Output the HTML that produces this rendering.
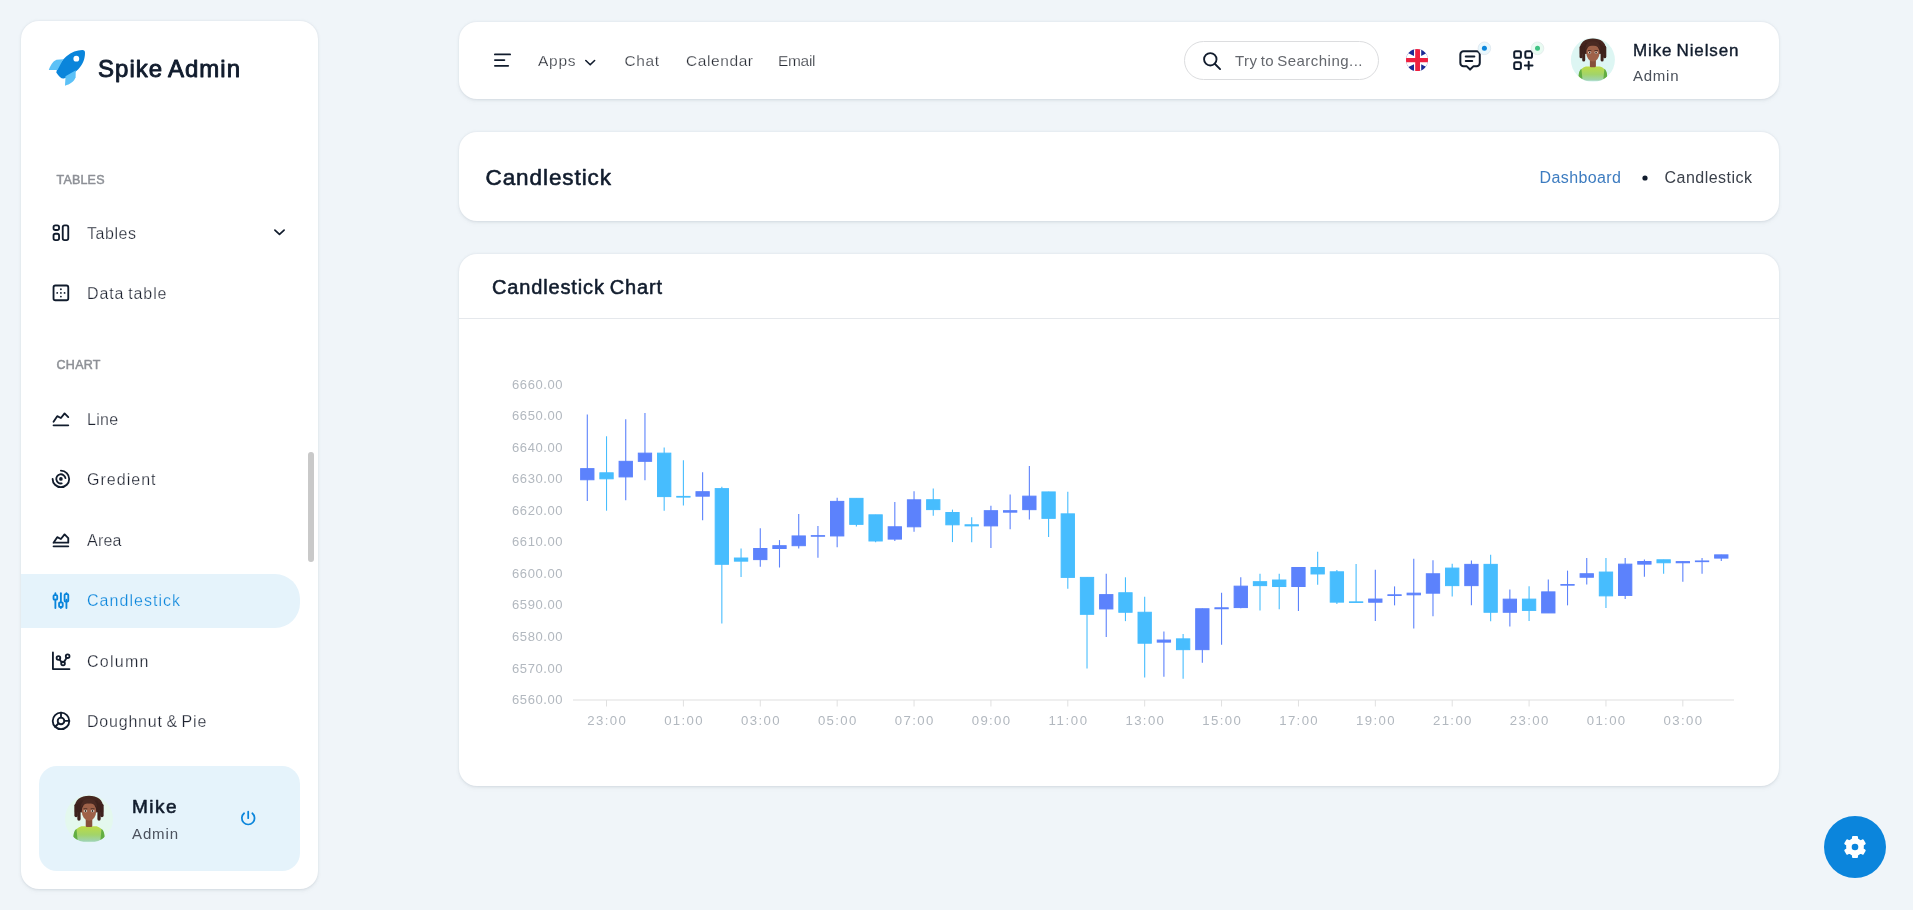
<!DOCTYPE html>
<html><head><meta charset="utf-8"><title>Candlestick</title>
<style>
html,body{margin:0;padding:0;width:1913px;height:910px;overflow:hidden;background:#F0F5F9;font-family:"Liberation Sans",sans-serif}
.abs{position:absolute}
.card{position:absolute;background:#fff;border-radius:18px;box-shadow:rgba(145,158,171,0.28) 0 0.5px 2.5px 0, rgba(0,0,0,0.025) 0 3px 6px 0}
svg text{font-family:"Liberation Sans",sans-serif}
</style></head><body>
<div class="card" style="left:21px;top:21px;width:297px;height:868px"></div>
<div class="abs" style="left:21px;top:573.5px;width:279px;height:54px;background:#E5F3FB;border-radius:0 25px 25px 0"></div>
<div class="abs" style="left:308px;top:451.5px;width:6px;height:110px;background:#C9C9C9;border-radius:3px"></div>
<div class="abs" style="left:39px;top:766px;width:261px;height:105px;background:#E5F3FB;border-radius:18px"></div>
<div class="card" style="left:458.5px;top:22px;width:1320.5px;height:77px"></div>
<div class="abs" style="left:1184.3px;top:41.2px;width:193.2px;height:36.5px;border:1px solid #DCDDDF;border-radius:20px"></div>
<div class="card" style="left:458.5px;top:131.5px;width:1320.5px;height:89.5px"></div>
<div class="card" style="left:458.5px;top:254px;width:1320.5px;height:532px"></div>
<div class="abs" style="left:458.5px;top:318px;width:1320.5px;height:1px;background:#E5E8EC"></div>
<div class="abs" style="left:1824px;top:816px;width:62px;height:62px;background:#0B85DC;border-radius:50%"></div>
<svg class="abs" style="left:0;top:0;will-change:transform" width="1913" height="910" viewBox="0 0 1913 910">
<text x="98" y="77" font-size="24" font-weight="400" fill="#111C2D" textLength="142" lengthAdjust="spacing" word-spacing="-1.5" stroke="#111C2D" stroke-width="0.9" stroke-linejoin="round">Spike Admin</text>
<text x="56.5" y="184" font-size="12.5" font-weight="400" fill="#8D9096" textLength="48" lengthAdjust="spacing" stroke="#8D9096" stroke-width="0.5" stroke-linejoin="round">TABLES</text>
<text x="56.5" y="369" font-size="12.5" font-weight="400" fill="#8D9096" textLength="44" lengthAdjust="spacing" stroke="#8D9096" stroke-width="0.5" stroke-linejoin="round">CHART</text>
<text x="87" y="239" font-size="16" font-weight="400" fill="#1E2330" textLength="49" lengthAdjust="spacing" stroke="#fff" stroke-width="0.25">Tables</text>
<text x="87" y="299.3" font-size="16" font-weight="400" fill="#1E2330" textLength="79.5" lengthAdjust="spacing" word-spacing="-1.5" stroke="#fff" stroke-width="0.25">Data table</text>
<text x="87" y="425" font-size="16" font-weight="400" fill="#1E2330" textLength="31.2" lengthAdjust="spacing" stroke="#fff" stroke-width="0.25">Line</text>
<text x="87" y="485.3" font-size="16" font-weight="400" fill="#1E2330" textLength="68.5" lengthAdjust="spacing" stroke="#fff" stroke-width="0.25">Gredient</text>
<text x="87" y="546" font-size="16" font-weight="400" fill="#1E2330" textLength="34.5" lengthAdjust="spacing" stroke="#fff" stroke-width="0.25">Area</text>
<text x="87" y="606" font-size="16" font-weight="400" fill="#0A85DB" textLength="93" lengthAdjust="spacing" stroke="#E5F3FB" stroke-width="0.25">Candlestick</text>
<text x="87" y="667" font-size="16" font-weight="400" fill="#1E2330" textLength="61.5" lengthAdjust="spacing" stroke="#fff" stroke-width="0.25">Column</text>
<text x="87" y="727" font-size="16" font-weight="400" fill="#1E2330" textLength="119.3" lengthAdjust="spacing" word-spacing="-1.5" stroke="#fff" stroke-width="0.25">Doughnut &amp; Pie</text>
<text x="132" y="812.8" font-size="19" font-weight="400" fill="#111C2D" textLength="44.5" lengthAdjust="spacing" stroke="#111C2D" stroke-width="0.6" stroke-linejoin="round">Mike</text>
<text x="132" y="838.7" font-size="15" font-weight="400" fill="#4B515D" textLength="46" lengthAdjust="spacing">Admin</text>
<text x="538" y="65.8" font-size="15.5" font-weight="400" fill="#2A2E36" textLength="37.5" lengthAdjust="spacing" stroke="#fff" stroke-width="0.25">Apps</text>
<text x="624.5" y="65.8" font-size="15.5" font-weight="400" fill="#2A2E36" textLength="34.5" lengthAdjust="spacing" stroke="#fff" stroke-width="0.25">Chat</text>
<text x="686" y="65.8" font-size="15.5" font-weight="400" fill="#2A2E36" textLength="67" lengthAdjust="spacing" stroke="#fff" stroke-width="0.25">Calendar</text>
<text x="778" y="65.8" font-size="15.5" font-weight="400" fill="#2A2E36" textLength="37.5" lengthAdjust="spacing" stroke="#fff" stroke-width="0.25">Email</text>
<text x="1235" y="65.8" font-size="15" font-weight="400" fill="#64676D" textLength="127.5" lengthAdjust="spacing" word-spacing="-1.5">Try to Searching...</text>
<text x="1633" y="55.6" font-size="17" font-weight="400" fill="#111C2D" textLength="105.5" lengthAdjust="spacing" word-spacing="-1.5" stroke="#111C2D" stroke-width="0.4" stroke-linejoin="round">Mike Nielsen</text>
<text x="1633" y="80.7" font-size="15" font-weight="400" fill="#4A505A" textLength="45.5" lengthAdjust="spacing">Admin</text>
<text x="485.5" y="184.8" font-size="22.5" font-weight="400" fill="#111C2D" textLength="125.5" lengthAdjust="spacing" stroke="#111C2D" stroke-width="0.6" stroke-linejoin="round">Candlestick</text>
<text x="1539.5" y="183.3" font-size="16" font-weight="400" fill="#3D7CC0" textLength="81.5" lengthAdjust="spacing">Dashboard</text>
<text x="1664.5" y="183.3" font-size="16" font-weight="400" fill="#3B414B" textLength="87.5" lengthAdjust="spacing">Candlestick</text>
<circle cx="1645" cy="178" r="2.6" fill="#111C2D"/>
<text x="492" y="294" font-size="20" font-weight="400" fill="#111C2D" textLength="170" lengthAdjust="spacing" word-spacing="-1.5" stroke="#111C2D" stroke-width="0.55" stroke-linejoin="round">Candlestick Chart</text>
<text x="562.5" y="704.1" font-size="13" font-weight="400" fill="#B2B8BF" textLength="50.5" lengthAdjust="spacing" text-anchor="end" lengthAdjust="spacing">6560.00</text>
<text x="562.5" y="672.5500000000001" font-size="13" font-weight="400" fill="#B2B8BF" textLength="50.5" lengthAdjust="spacing" text-anchor="end" lengthAdjust="spacing">6570.00</text>
<text x="562.5" y="641.0" font-size="13" font-weight="400" fill="#B2B8BF" textLength="50.5" lengthAdjust="spacing" text-anchor="end" lengthAdjust="spacing">6580.00</text>
<text x="562.5" y="609.45" font-size="13" font-weight="400" fill="#B2B8BF" textLength="50.5" lengthAdjust="spacing" text-anchor="end" lengthAdjust="spacing">6590.00</text>
<text x="562.5" y="577.9" font-size="13" font-weight="400" fill="#B2B8BF" textLength="50.5" lengthAdjust="spacing" text-anchor="end" lengthAdjust="spacing">6600.00</text>
<text x="562.5" y="546.35" font-size="13" font-weight="400" fill="#B2B8BF" textLength="50.5" lengthAdjust="spacing" text-anchor="end" lengthAdjust="spacing">6610.00</text>
<text x="562.5" y="514.8000000000001" font-size="13" font-weight="400" fill="#B2B8BF" textLength="50.5" lengthAdjust="spacing" text-anchor="end" lengthAdjust="spacing">6620.00</text>
<text x="562.5" y="483.25" font-size="13" font-weight="400" fill="#B2B8BF" textLength="50.5" lengthAdjust="spacing" text-anchor="end" lengthAdjust="spacing">6630.00</text>
<text x="562.5" y="451.70000000000005" font-size="13" font-weight="400" fill="#B2B8BF" textLength="50.5" lengthAdjust="spacing" text-anchor="end" lengthAdjust="spacing">6640.00</text>
<text x="562.5" y="420.15000000000003" font-size="13" font-weight="400" fill="#B2B8BF" textLength="50.5" lengthAdjust="spacing" text-anchor="end" lengthAdjust="spacing">6650.00</text>
<text x="562.5" y="388.6" font-size="13" font-weight="400" fill="#B2B8BF" textLength="50.5" lengthAdjust="spacing" text-anchor="end" lengthAdjust="spacing">6660.00</text>
<line x1="573" y1="700" x2="1734" y2="700" stroke="#E0E0E0" stroke-width="1.2"/>
<line x1="606.52" y1="700" x2="606.52" y2="706.5" stroke="#E0E0E0" stroke-width="1"/>
<text x="606.52" y="725.1" font-size="13.2" font-weight="400" fill="#B2B8BF" textLength="38.5" lengthAdjust="spacing" text-anchor="middle">23:00</text>
<line x1="683.40" y1="700" x2="683.40" y2="706.5" stroke="#E0E0E0" stroke-width="1"/>
<text x="683.4" y="725.1" font-size="13.2" font-weight="400" fill="#B2B8BF" textLength="38.5" lengthAdjust="spacing" text-anchor="middle">01:00</text>
<line x1="760.28" y1="700" x2="760.28" y2="706.5" stroke="#E0E0E0" stroke-width="1"/>
<text x="760.28" y="725.1" font-size="13.2" font-weight="400" fill="#B2B8BF" textLength="38.5" lengthAdjust="spacing" text-anchor="middle">03:00</text>
<line x1="837.16" y1="700" x2="837.16" y2="706.5" stroke="#E0E0E0" stroke-width="1"/>
<text x="837.16" y="725.1" font-size="13.2" font-weight="400" fill="#B2B8BF" textLength="38.5" lengthAdjust="spacing" text-anchor="middle">05:00</text>
<line x1="914.04" y1="700" x2="914.04" y2="706.5" stroke="#E0E0E0" stroke-width="1"/>
<text x="914.04" y="725.1" font-size="13.2" font-weight="400" fill="#B2B8BF" textLength="38.5" lengthAdjust="spacing" text-anchor="middle">07:00</text>
<line x1="990.92" y1="700" x2="990.92" y2="706.5" stroke="#E0E0E0" stroke-width="1"/>
<text x="990.92" y="725.1" font-size="13.2" font-weight="400" fill="#B2B8BF" textLength="38.5" lengthAdjust="spacing" text-anchor="middle">09:00</text>
<line x1="1067.80" y1="700" x2="1067.80" y2="706.5" stroke="#E0E0E0" stroke-width="1"/>
<text x="1067.8" y="725.1" font-size="13.2" font-weight="400" fill="#B2B8BF" textLength="38.5" lengthAdjust="spacing" text-anchor="middle">11:00</text>
<line x1="1144.68" y1="700" x2="1144.68" y2="706.5" stroke="#E0E0E0" stroke-width="1"/>
<text x="1144.68" y="725.1" font-size="13.2" font-weight="400" fill="#B2B8BF" textLength="38.5" lengthAdjust="spacing" text-anchor="middle">13:00</text>
<line x1="1221.56" y1="700" x2="1221.56" y2="706.5" stroke="#E0E0E0" stroke-width="1"/>
<text x="1221.56" y="725.1" font-size="13.2" font-weight="400" fill="#B2B8BF" textLength="38.5" lengthAdjust="spacing" text-anchor="middle">15:00</text>
<line x1="1298.44" y1="700" x2="1298.44" y2="706.5" stroke="#E0E0E0" stroke-width="1"/>
<text x="1298.44" y="725.1" font-size="13.2" font-weight="400" fill="#B2B8BF" textLength="38.5" lengthAdjust="spacing" text-anchor="middle">17:00</text>
<line x1="1375.32" y1="700" x2="1375.32" y2="706.5" stroke="#E0E0E0" stroke-width="1"/>
<text x="1375.32" y="725.1" font-size="13.2" font-weight="400" fill="#B2B8BF" textLength="38.5" lengthAdjust="spacing" text-anchor="middle">19:00</text>
<line x1="1452.20" y1="700" x2="1452.20" y2="706.5" stroke="#E0E0E0" stroke-width="1"/>
<text x="1452.2" y="725.1" font-size="13.2" font-weight="400" fill="#B2B8BF" textLength="38.5" lengthAdjust="spacing" text-anchor="middle">21:00</text>
<line x1="1529.08" y1="700" x2="1529.08" y2="706.5" stroke="#E0E0E0" stroke-width="1"/>
<text x="1529.08" y="725.1" font-size="13.2" font-weight="400" fill="#B2B8BF" textLength="38.5" lengthAdjust="spacing" text-anchor="middle">23:00</text>
<line x1="1605.96" y1="700" x2="1605.96" y2="706.5" stroke="#E0E0E0" stroke-width="1"/>
<text x="1605.96" y="725.1" font-size="13.2" font-weight="400" fill="#B2B8BF" textLength="38.5" lengthAdjust="spacing" text-anchor="middle">01:00</text>
<line x1="1682.84" y1="700" x2="1682.84" y2="706.5" stroke="#E0E0E0" stroke-width="1"/>
<text x="1682.84" y="725.1" font-size="13.2" font-weight="400" fill="#B2B8BF" textLength="38.5" lengthAdjust="spacing" text-anchor="middle">03:00</text>
<line x1="587.30" y1="414.47" x2="587.30" y2="501.11" stroke="#5C82FC" stroke-width="1.1"/>
<rect x="580.65" y="468.64" width="13.3" height="11.11" fill="#5C82FC" stroke="#5C82FC" stroke-width="1"/>
<line x1="606.52" y1="436.27" x2="606.52" y2="510.70" stroke="#47BDFE" stroke-width="1.1"/>
<rect x="599.87" y="472.81" width="13.3" height="5.99" fill="#47BDFE" stroke="#47BDFE" stroke-width="1"/>
<line x1="625.74" y1="419.36" x2="625.74" y2="500.16" stroke="#5C82FC" stroke-width="1.1"/>
<rect x="619.09" y="461.32" width="13.3" height="15.59" fill="#5C82FC" stroke="#5C82FC" stroke-width="1"/>
<line x1="644.96" y1="412.90" x2="644.96" y2="480.19" stroke="#5C82FC" stroke-width="1.1"/>
<rect x="638.31" y="453.15" width="13.3" height="8.17" fill="#5C82FC" stroke="#5C82FC" stroke-width="1"/>
<line x1="664.18" y1="447.60" x2="664.18" y2="510.70" stroke="#47BDFE" stroke-width="1.1"/>
<rect x="657.53" y="453.15" width="13.3" height="43.44" fill="#47BDFE" stroke="#47BDFE" stroke-width="1"/>
<line x1="683.40" y1="460.13" x2="683.40" y2="505.40" stroke="#47BDFE" stroke-width="1.1"/>
<rect x="676.75" y="496.41" width="13.3" height="0.69" fill="#47BDFE" stroke="#47BDFE" stroke-width="1"/>
<line x1="702.62" y1="472.21" x2="702.62" y2="520.16" stroke="#5C82FC" stroke-width="1.1"/>
<rect x="695.97" y="491.71" width="13.3" height="4.45" fill="#5C82FC" stroke="#5C82FC" stroke-width="1"/>
<line x1="721.84" y1="486.66" x2="721.84" y2="623.59" stroke="#47BDFE" stroke-width="1.1"/>
<rect x="715.19" y="488.62" width="13.3" height="75.66" fill="#47BDFE" stroke="#47BDFE" stroke-width="1"/>
<line x1="741.06" y1="548.47" x2="741.06" y2="577.11" stroke="#47BDFE" stroke-width="1.1"/>
<rect x="734.41" y="558.02" width="13.3" height="3.12" fill="#47BDFE" stroke="#47BDFE" stroke-width="1"/>
<line x1="760.28" y1="528.37" x2="760.28" y2="566.67" stroke="#5C82FC" stroke-width="1.1"/>
<rect x="753.63" y="548.50" width="13.3" height="11.11" fill="#5C82FC" stroke="#5C82FC" stroke-width="1"/>
<line x1="779.50" y1="540.10" x2="779.50" y2="567.52" stroke="#5C82FC" stroke-width="1.1"/>
<rect x="772.85" y="545.69" width="13.3" height="2.81" fill="#5C82FC" stroke="#5C82FC" stroke-width="1"/>
<line x1="798.72" y1="513.89" x2="798.72" y2="548.53" stroke="#5C82FC" stroke-width="1.1"/>
<rect x="792.07" y="535.94" width="13.3" height="9.75" fill="#5C82FC" stroke="#5C82FC" stroke-width="1"/>
<line x1="817.94" y1="526.06" x2="817.94" y2="557.74" stroke="#5C82FC" stroke-width="1.1"/>
<rect x="811.29" y="535.64" width="13.3" height="0.60" fill="#5C82FC" stroke="#5C82FC" stroke-width="1"/>
<line x1="837.16" y1="497.70" x2="837.16" y2="547.20" stroke="#5C82FC" stroke-width="1.1"/>
<rect x="830.51" y="501.39" width="13.3" height="34.55" fill="#5C82FC" stroke="#5C82FC" stroke-width="1"/>
<line x1="856.38" y1="498.36" x2="856.38" y2="526.48" stroke="#47BDFE" stroke-width="1.1"/>
<rect x="849.73" y="498.36" width="13.3" height="26.00" fill="#47BDFE" stroke="#47BDFE" stroke-width="1"/>
<line x1="875.60" y1="514.68" x2="875.60" y2="542.25" stroke="#47BDFE" stroke-width="1.1"/>
<rect x="868.95" y="514.83" width="13.3" height="26.15" fill="#47BDFE" stroke="#47BDFE" stroke-width="1"/>
<line x1="894.82" y1="501.93" x2="894.82" y2="540.99" stroke="#5C82FC" stroke-width="1.1"/>
<rect x="888.17" y="526.79" width="13.3" height="12.30" fill="#5C82FC" stroke="#5C82FC" stroke-width="1"/>
<line x1="914.04" y1="491.14" x2="914.04" y2="531.74" stroke="#5C82FC" stroke-width="1.1"/>
<rect x="907.39" y="499.82" width="13.3" height="26.98" fill="#5C82FC" stroke="#5C82FC" stroke-width="1"/>
<line x1="933.26" y1="488.62" x2="933.26" y2="515.81" stroke="#47BDFE" stroke-width="1.1"/>
<rect x="926.61" y="499.72" width="13.3" height="9.88" fill="#47BDFE" stroke="#47BDFE" stroke-width="1"/>
<line x1="952.48" y1="509.60" x2="952.48" y2="542.09" stroke="#47BDFE" stroke-width="1.1"/>
<rect x="945.83" y="512.50" width="13.3" height="12.30" fill="#47BDFE" stroke="#47BDFE" stroke-width="1"/>
<line x1="971.70" y1="517.23" x2="971.70" y2="542.25" stroke="#47BDFE" stroke-width="1.1"/>
<rect x="965.05" y="524.80" width="13.3" height="1.07" fill="#47BDFE" stroke="#47BDFE" stroke-width="1"/>
<line x1="990.92" y1="505.65" x2="990.92" y2="547.93" stroke="#5C82FC" stroke-width="1.1"/>
<rect x="984.27" y="510.70" width="13.3" height="15.18" fill="#5C82FC" stroke="#5C82FC" stroke-width="1"/>
<line x1="1010.14" y1="494.39" x2="1010.14" y2="529.16" stroke="#5C82FC" stroke-width="1.1"/>
<rect x="1003.49" y="510.70" width="13.3" height="1.45" fill="#5C82FC" stroke="#5C82FC" stroke-width="1"/>
<line x1="1029.36" y1="466.06" x2="1029.36" y2="519.41" stroke="#5C82FC" stroke-width="1.1"/>
<rect x="1022.71" y="496.16" width="13.3" height="13.50" fill="#5C82FC" stroke="#5C82FC" stroke-width="1"/>
<line x1="1048.58" y1="491.77" x2="1048.58" y2="537.01" stroke="#47BDFE" stroke-width="1.1"/>
<rect x="1041.93" y="491.93" width="13.3" height="26.41" fill="#47BDFE" stroke="#47BDFE" stroke-width="1"/>
<line x1="1067.80" y1="491.86" x2="1067.80" y2="588.72" stroke="#47BDFE" stroke-width="1.1"/>
<rect x="1061.15" y="513.86" width="13.3" height="63.54" fill="#47BDFE" stroke="#47BDFE" stroke-width="1"/>
<line x1="1087.02" y1="577.33" x2="1087.02" y2="668.45" stroke="#47BDFE" stroke-width="1.1"/>
<rect x="1080.37" y="577.40" width="13.3" height="36.91" fill="#47BDFE" stroke="#47BDFE" stroke-width="1"/>
<line x1="1106.24" y1="573.80" x2="1106.24" y2="636.90" stroke="#5C82FC" stroke-width="1.1"/>
<rect x="1099.59" y="594.62" width="13.3" height="14.32" fill="#5C82FC" stroke="#5C82FC" stroke-width="1"/>
<line x1="1125.46" y1="577.30" x2="1125.46" y2="621.12" stroke="#47BDFE" stroke-width="1.1"/>
<rect x="1118.81" y="592.76" width="13.3" height="19.50" fill="#47BDFE" stroke="#47BDFE" stroke-width="1"/>
<line x1="1144.68" y1="596.74" x2="1144.68" y2="677.47" stroke="#47BDFE" stroke-width="1.1"/>
<rect x="1138.03" y="612.26" width="13.3" height="30.95" fill="#47BDFE" stroke="#47BDFE" stroke-width="1"/>
<line x1="1163.90" y1="631.47" x2="1163.90" y2="676.68" stroke="#5C82FC" stroke-width="1.1"/>
<rect x="1157.25" y="640.06" width="13.3" height="2.05" fill="#5C82FC" stroke="#5C82FC" stroke-width="1"/>
<line x1="1183.12" y1="634.00" x2="1183.12" y2="678.64" stroke="#47BDFE" stroke-width="1.1"/>
<rect x="1176.47" y="638.86" width="13.3" height="10.79" fill="#47BDFE" stroke="#47BDFE" stroke-width="1"/>
<line x1="1202.34" y1="608.50" x2="1202.34" y2="662.87" stroke="#5C82FC" stroke-width="1.1"/>
<rect x="1195.69" y="608.76" width="13.3" height="40.89" fill="#5C82FC" stroke="#5C82FC" stroke-width="1"/>
<line x1="1221.56" y1="592.73" x2="1221.56" y2="644.63" stroke="#5C82FC" stroke-width="1.1"/>
<rect x="1214.91" y="607.81" width="13.3" height="0.95" fill="#5C82FC" stroke="#5C82FC" stroke-width="1"/>
<line x1="1240.78" y1="577.30" x2="1240.78" y2="608.19" stroke="#5C82FC" stroke-width="1.1"/>
<rect x="1234.13" y="586.17" width="13.3" height="21.39" fill="#5C82FC" stroke="#5C82FC" stroke-width="1"/>
<line x1="1260.00" y1="573.80" x2="1260.00" y2="610.43" stroke="#47BDFE" stroke-width="1.1"/>
<rect x="1253.35" y="581.69" width="13.3" height="3.94" fill="#47BDFE" stroke="#47BDFE" stroke-width="1"/>
<line x1="1279.22" y1="573.80" x2="1279.22" y2="609.36" stroke="#47BDFE" stroke-width="1.1"/>
<rect x="1272.57" y="580.02" width="13.3" height="6.50" fill="#47BDFE" stroke="#47BDFE" stroke-width="1"/>
<line x1="1298.44" y1="567.46" x2="1298.44" y2="611.12" stroke="#5C82FC" stroke-width="1.1"/>
<rect x="1291.79" y="567.49" width="13.3" height="19.02" fill="#5C82FC" stroke="#5C82FC" stroke-width="1"/>
<line x1="1317.66" y1="551.72" x2="1317.66" y2="584.81" stroke="#47BDFE" stroke-width="1.1"/>
<rect x="1311.01" y="567.49" width="13.3" height="6.47" fill="#47BDFE" stroke="#47BDFE" stroke-width="1"/>
<line x1="1336.88" y1="569.98" x2="1336.88" y2="604.12" stroke="#47BDFE" stroke-width="1.1"/>
<rect x="1330.23" y="571.81" width="13.3" height="30.32" fill="#47BDFE" stroke="#47BDFE" stroke-width="1"/>
<line x1="1356.10" y1="564.08" x2="1356.10" y2="602.20" stroke="#47BDFE" stroke-width="1.1"/>
<rect x="1349.45" y="601.86" width="13.3" height="0.60" fill="#47BDFE" stroke="#47BDFE" stroke-width="1"/>
<line x1="1375.32" y1="569.64" x2="1375.32" y2="621.12" stroke="#5C82FC" stroke-width="1.1"/>
<rect x="1368.67" y="599.04" width="13.3" height="3.16" fill="#5C82FC" stroke="#5C82FC" stroke-width="1"/>
<line x1="1394.54" y1="586.39" x2="1394.54" y2="605.35" stroke="#5C82FC" stroke-width="1.1"/>
<rect x="1387.89" y="594.81" width="13.3" height="0.66" fill="#5C82FC" stroke="#5C82FC" stroke-width="1"/>
<line x1="1413.76" y1="558.78" x2="1413.76" y2="628.60" stroke="#5C82FC" stroke-width="1.1"/>
<rect x="1407.11" y="593.17" width="13.3" height="1.64" fill="#5C82FC" stroke="#5C82FC" stroke-width="1"/>
<line x1="1432.98" y1="560.30" x2="1432.98" y2="616.17" stroke="#5C82FC" stroke-width="1.1"/>
<rect x="1426.33" y="573.77" width="13.3" height="19.40" fill="#5C82FC" stroke="#5C82FC" stroke-width="1"/>
<line x1="1452.20" y1="563.67" x2="1452.20" y2="596.58" stroke="#47BDFE" stroke-width="1.1"/>
<rect x="1445.55" y="568.09" width="13.3" height="17.54" fill="#47BDFE" stroke="#47BDFE" stroke-width="1"/>
<line x1="1471.42" y1="560.55" x2="1471.42" y2="605.35" stroke="#5C82FC" stroke-width="1.1"/>
<rect x="1464.77" y="564.37" width="13.3" height="21.26" fill="#5C82FC" stroke="#5C82FC" stroke-width="1"/>
<line x1="1490.64" y1="554.87" x2="1490.64" y2="621.16" stroke="#47BDFE" stroke-width="1.1"/>
<rect x="1483.99" y="564.37" width="13.3" height="47.89" fill="#47BDFE" stroke="#47BDFE" stroke-width="1"/>
<line x1="1509.86" y1="589.58" x2="1509.86" y2="626.58" stroke="#5C82FC" stroke-width="1.1"/>
<rect x="1503.21" y="599.17" width="13.3" height="13.09" fill="#5C82FC" stroke="#5C82FC" stroke-width="1"/>
<line x1="1529.08" y1="586.20" x2="1529.08" y2="621.12" stroke="#47BDFE" stroke-width="1.1"/>
<rect x="1522.43" y="599.13" width="13.3" height="11.29" fill="#47BDFE" stroke="#47BDFE" stroke-width="1"/>
<line x1="1548.30" y1="579.45" x2="1548.30" y2="612.92" stroke="#5C82FC" stroke-width="1.1"/>
<rect x="1541.65" y="591.88" width="13.3" height="21.04" fill="#5C82FC" stroke="#5C82FC" stroke-width="1"/>
<line x1="1567.52" y1="570.64" x2="1567.52" y2="605.35" stroke="#5C82FC" stroke-width="1.1"/>
<rect x="1560.87" y="584.56" width="13.3" height="0.60" fill="#5C82FC" stroke="#5C82FC" stroke-width="1"/>
<line x1="1586.74" y1="558.02" x2="1586.74" y2="584.50" stroke="#5C82FC" stroke-width="1.1"/>
<rect x="1580.09" y="573.74" width="13.3" height="3.50" fill="#5C82FC" stroke="#5C82FC" stroke-width="1"/>
<line x1="1605.96" y1="558.02" x2="1605.96" y2="608.06" stroke="#47BDFE" stroke-width="1.1"/>
<rect x="1599.31" y="572.06" width="13.3" height="23.79" fill="#47BDFE" stroke="#47BDFE" stroke-width="1"/>
<line x1="1625.18" y1="558.02" x2="1625.18" y2="599.04" stroke="#5C82FC" stroke-width="1.1"/>
<rect x="1618.53" y="564.15" width="13.3" height="31.27" fill="#5C82FC" stroke="#5C82FC" stroke-width="1"/>
<line x1="1644.40" y1="559.60" x2="1644.40" y2="576.67" stroke="#5C82FC" stroke-width="1.1"/>
<rect x="1637.75" y="561.53" width="13.3" height="2.59" fill="#5C82FC" stroke="#5C82FC" stroke-width="1"/>
<line x1="1663.62" y1="559.79" x2="1663.62" y2="573.80" stroke="#47BDFE" stroke-width="1.1"/>
<rect x="1656.97" y="559.79" width="13.3" height="2.97" fill="#47BDFE" stroke="#47BDFE" stroke-width="1"/>
<line x1="1682.84" y1="561.21" x2="1682.84" y2="581.69" stroke="#5C82FC" stroke-width="1.1"/>
<rect x="1676.19" y="561.62" width="13.3" height="1.14" fill="#5C82FC" stroke="#5C82FC" stroke-width="1"/>
<line x1="1702.06" y1="558.02" x2="1702.06" y2="573.80" stroke="#5C82FC" stroke-width="1.1"/>
<rect x="1695.41" y="560.96" width="13.3" height="0.69" fill="#5C82FC" stroke="#5C82FC" stroke-width="1"/>
<line x1="1721.28" y1="554.87" x2="1721.28" y2="560.96" stroke="#5C82FC" stroke-width="1.1"/>
<rect x="1714.63" y="554.87" width="13.3" height="3.22" fill="#5C82FC" stroke="#5C82FC" stroke-width="1"/>
<path d="M56.3 72.6 C57.5 66.5 61.5 60.5 66.5 56.2 C71.5 52 77 50.3 82.3 50.1 Q85 50 85 52.7 C85 58.5 83.2 64 78.3 69.2 C74 73.6 68.5 76.8 64.5 78.3 Q61 80 56.3 72.6 Z" fill="#0A85DB"/>
<circle cx="76.3" cy="58.7" r="2.9" fill="#fff"/>
<path d="M48.8 69.9 C50.3 65.5 52.8 61.2 56.5 59.7 L63.2 59.3 L57.5 70 Z" fill="#5CC1F7"/>
<path d="M65 85.7 C69.8 84.5 74.3 81.5 75.6 77.3 L75.8 70.2 L65.5 76.2 Z" fill="#5CC1F7"/>
<g transform="translate(49.86,221.76) scale(0.92)" fill="none" stroke="#111C2D" stroke-width="2" stroke-linecap="round" stroke-linejoin="round"><path d="M4 6a2 2 0 0 1 2 -2h2a2 2 0 0 1 2 2v1a2 2 0 0 1 -2 2h-2a2 2 0 0 1 -2 -2z"/><path d="M4 15a2 2 0 0 1 2 -2h2a2 2 0 0 1 2 2v3a2 2 0 0 1 -2 2h-2a2 2 0 0 1 -2 -2z"/><path d="M14 6a2 2 0 0 1 2 -2h2a2 2 0 0 1 2 2v12a2 2 0 0 1 -2 2h-2a2 2 0 0 1 -2 -2z"/></g>
<g transform="translate(49.86,281.86) scale(0.92)" fill="none" stroke="#111C2D" stroke-width="2" stroke-linecap="round" stroke-linejoin="round"><path d="M4 6a2 2 0 0 1 2 -2h12a2 2 0 0 1 2 2v12a2 2 0 0 1 -2 2h-12a2 2 0 0 1 -2 -2z"/><path d="M12 8v.01"/><path d="M8 12v.01"/><path d="M12 12v.01"/><path d="M16 12v.01"/><path d="M12 16v.01"/></g>
<g transform="translate(49.86,407.86) scale(0.92)" fill="none" stroke="#111C2D" stroke-width="2" stroke-linecap="round" stroke-linejoin="round"><path d="M4 19l16 0"/><path d="M4 15l4 -6l4 2l4 -5l4 4"/></g>
<g transform="translate(49.86,467.86) scale(0.92)" fill="none" stroke="#111C2D" stroke-width="2" stroke-linecap="round" stroke-linejoin="round"><path d="M12 12m-1 0a1 1 0 1 0 2 0a1 1 0 1 0 -2 0"/><path d="M16.924 11.132a5 5 0 1 0 -4.056 5.792"/><path d="M3 12a9 9 0 1 0 9 -9"/></g>
<g transform="translate(49.86,528.86) scale(0.92)" fill="none" stroke="#111C2D" stroke-width="2" stroke-linecap="round" stroke-linejoin="round"><path d="M4 19l16 0"/><path d="M4 15l4 -6l4 2l4 -5l4 4l0 5l-16 0"/></g>
<g transform="translate(49.86,589.56) scale(0.92)" fill="none" stroke="#0A85DB" stroke-width="2" stroke-linecap="round" stroke-linejoin="round"><path d="M4 7a1 1 0 0 1 1 -1h2a1 1 0 0 1 1 1v3a1 1 0 0 1 -1 1h-2a1 1 0 0 1 -1 -1z"/><path d="M6 4l0 2"/><path d="M6 11l0 9"/><path d="M10 15a1 1 0 0 1 1 -1h2a1 1 0 0 1 1 1v3a1 1 0 0 1 -1 1h-2a1 1 0 0 1 -1 -1z"/><path d="M12 4l0 10"/><path d="M12 19l0 1"/><path d="M16 6a1 1 0 0 1 1 -1h2a1 1 0 0 1 1 1v6a1 1 0 0 1 -1 1h-2a1 1 0 0 1 -1 -1z"/><path d="M18 4l0 1"/><path d="M18 11l0 9"/></g>
<g transform="translate(50.16,649.76) scale(0.92)" fill="none" stroke="#111C2D" stroke-width="2" stroke-linecap="round" stroke-linejoin="round"><path d="M3 3v18h18"/><path d="M9 9m-2 0a2 2 0 1 0 4 0a2 2 0 1 0 -4 0"/><path d="M19 7m-2 0a2 2 0 1 0 4 0a2 2 0 1 0 -4 0"/><path d="M14 15m-2 0a2 2 0 1 0 4 0a2 2 0 1 0 -4 0"/><path d="M10.16 10.62l2.34 2.88"/><path d="M15.088 13.328l2.837 -4.586"/></g>
<g transform="translate(49.96,709.86) scale(0.92)" fill="none" stroke="#111C2D" stroke-width="2" stroke-linecap="round" stroke-linejoin="round"><path d="M9.45 14.55L5.64 18.36"/><path d="M12 3v5.4"/><path d="M15.6 12h5.4"/><path d="M12 12m-3.6 0a3.6 3.6 0 1 0 7.2 0a3.6 3.6 0 1 0 -7.2 0"/><path d="M12 12m-9 0a9 9 0 1 0 18 0a9 9 0 1 0 -18 0"/></g>
<path d="M274.9 230.1 L279.5 234.4 L284.1 230.1" fill="none" stroke="#111C2D" stroke-width="1.7" stroke-linecap="round" stroke-linejoin="round"/>
<g transform="translate(238.36,808.36) scale(0.82)" fill="none" stroke="#0A85DB" stroke-width="2.1" stroke-linecap="round" stroke-linejoin="round"><path d="M7 6a7.75 7.75 0 1 0 10 0"/><path d="M12 4l0 8"/></g>
<g transform="translate(491.10,48.70) scale(0.95)" fill="none" stroke="#111C2D" stroke-width="1.9" stroke-linecap="round" stroke-linejoin="round"><path d="M4 6l16 0"/><path d="M4 12l10 0"/><path d="M4 18l14 0"/></g>
<path d="M585.8 60.5 L590.2 64.8 L594.6 60.5" fill="none" stroke="#111C2D" stroke-width="1.6" stroke-linecap="round" stroke-linejoin="round"/>
<g transform="translate(1201.40,50.40) scale(0.89)" fill="none" stroke="#111C2D" stroke-width="2.1" stroke-linecap="round" stroke-linejoin="round"><path d="M10 10m-7 0a7 7 0 1 0 14 0a7 7 0 1 0 -14 0"/><path d="M21 21l-6 -6"/></g>
<g transform="translate(1457.10,46.90) scale(1.08)" fill="none" stroke="#111C2D" stroke-width="1.85" stroke-linecap="round" stroke-linejoin="round"><path d="M8 9h8"/><path d="M8 13h6"/><path d="M9 18h-3a3 3 0 0 1 -3 -3v-8a3 3 0 0 1 3 -3h12a3 3 0 0 1 3 3v8a3 3 0 0 1 -3 3h-3l-3 3l-3 -3z"/></g>
<g fill="none" stroke="#111C2D" stroke-width="2" stroke-linecap="round" stroke-linejoin="round"><rect x="1514.2" y="51.2" width="6.7" height="6.6" rx="1.6"/><rect x="1525.3" y="51.2" width="6.7" height="6.6" rx="1.6"/><rect x="1514.2" y="62.3" width="6.7" height="6.6" rx="1.6"/><path d="M1524.9 65.5h7.6M1528.7 61.7v7.6"/></g>
<circle cx="1484.4" cy="48.3" r="6.3" fill="#E8F7FD" stroke="#DDE6EE" stroke-width="0.8"/><circle cx="1484.4" cy="48.3" r="2.5" fill="#0A85DB"/>
<circle cx="1537.5" cy="48.3" r="6.3" fill="#E9FBF2" stroke="#E2EAEA" stroke-width="0.8"/><circle cx="1537.5" cy="48.3" r="2.5" fill="#3FC383"/>
<defs><clipPath id="fc"><circle cx="1417" cy="60.1" r="11"/></clipPath></defs>
<g clip-path="url(#fc)"><rect x="1395" y="48" width="45" height="25" fill="#1B2B96"/>
<path d="M1395.6 49.1L1439.6 71.1M1439.6 49.1L1395.6 71.1" stroke="#fff" stroke-width="4.2"/>
<path d="M1417.6 47V73M1394 60.1H1441" stroke="#fff" stroke-width="7.2"/>
<path d="M1417.6 47V73" stroke="#EE2040" stroke-width="4.8"/><path d="M1394 60.1H1441" stroke="#EE2040" stroke-width="4.3"/></g>
<defs><clipPath id="av1592"><circle r="22"/></clipPath>
<linearGradient id="sh1592" x1="0" y1="0" x2="0" y2="1"><stop offset="0" stop-color="#BCDB45"/><stop offset="0.55" stop-color="#A2D46A"/><stop offset="1" stop-color="#9ED3B8"/></linearGradient></defs>
<g transform="translate(1592.9,59.8) scale(1.0)">
<circle r="22" fill="#DDF6F3"/><g clip-path="url(#av1592)">
<path d="M-14 21 C-14.8 14 -13.2 8.6 -7 6.8 L7 6.8 C13.2 8.6 14.8 14 14 21 Z" fill="url(#sh1592)"/>
<path d="M-14 21 C-14.8 15 -14 11 -11.5 9 L-10.3 21Z M14 21 C14.8 15 14 11 11.5 9 L10.3 21Z" fill="#62AE42"/>
<rect x="-3" y="-1" width="6" height="8.5" rx="1" fill="#86503A"/>
<path d="M-13 -10 C-13.5 -17.5 -7.5 -21.3 0 -21.3 C7.5 -21.3 13.5 -17.5 13 -10 L13 -6 L-13 -6Z" fill="#45261F"/>
<rect x="-13.40" y="-14" width="3.2" height="12.50" rx="1.60" fill="#3E221C"/><rect x="-10.70" y="-15" width="3.0" height="16.60" rx="1.50" fill="#3E221C"/><rect x="10.20" y="-14" width="3.2" height="12.50" rx="1.60" fill="#3E221C"/><rect x="7.70" y="-15" width="3.0" height="16.60" rx="1.50" fill="#3E221C"/><rect x="-8.20" y="-17" width="2.8" height="11.00" rx="1.40" fill="#3E221C"/><rect x="5.40" y="-17" width="2.8" height="11.00" rx="1.40" fill="#3E221C"/>
<ellipse cx="0" cy="-6.9" rx="6.6" ry="8.6" fill="#9E6148"/>
<path d="M-7.6 -10 C-7.4 -16.5 -3.5 -18.8 0 -18.4 C3.5 -18.8 7.4 -16.5 7.6 -10 C6 -13.2 3.2 -14.3 0 -14 C-3.2 -14.3 -6 -13.2 -7.6 -10Z" fill="#4A2A22"/>
<ellipse cx="-3.3" cy="-7.2" rx="1.7" ry="1.15" fill="#E6DCD2"/><ellipse cx="3.3" cy="-7.2" rx="1.7" ry="1.15" fill="#E6DCD2"/>
<circle cx="-3.2" cy="-7.2" r="0.85" fill="#3A2A20"/><circle cx="3.2" cy="-7.2" r="0.85" fill="#3A2A20"/>
<path d="M-5 -9.3h3.4M1.6 -9.3h3.4" stroke="#3A201B" stroke-width="0.7"/>
</g></g>
<defs><clipPath id="av89"><circle r="22"/></clipPath>
<linearGradient id="sh89" x1="0" y1="0" x2="0" y2="1"><stop offset="0" stop-color="#BCDB45"/><stop offset="0.55" stop-color="#A2D46A"/><stop offset="1" stop-color="#9ED3B8"/></linearGradient></defs>
<g transform="translate(89,818.9) scale(1.0909090909090908)">
<circle r="22" fill="#E4F8EE"/><g clip-path="url(#av89)">
<path d="M-14 21 C-14.8 14 -13.2 8.6 -7 6.8 L7 6.8 C13.2 8.6 14.8 14 14 21 Z" fill="url(#sh89)"/>
<path d="M-14 21 C-14.8 15 -14 11 -11.5 9 L-10.3 21Z M14 21 C14.8 15 14 11 11.5 9 L10.3 21Z" fill="#62AE42"/>
<rect x="-3" y="-1" width="6" height="8.5" rx="1" fill="#86503A"/>
<path d="M-13 -10 C-13.5 -17.5 -7.5 -21.3 0 -21.3 C7.5 -21.3 13.5 -17.5 13 -10 L13 -6 L-13 -6Z" fill="#45261F"/>
<rect x="-13.40" y="-14" width="3.2" height="12.50" rx="1.60" fill="#3E221C"/><rect x="-10.70" y="-15" width="3.0" height="16.60" rx="1.50" fill="#3E221C"/><rect x="10.20" y="-14" width="3.2" height="12.50" rx="1.60" fill="#3E221C"/><rect x="7.70" y="-15" width="3.0" height="16.60" rx="1.50" fill="#3E221C"/><rect x="-8.20" y="-17" width="2.8" height="11.00" rx="1.40" fill="#3E221C"/><rect x="5.40" y="-17" width="2.8" height="11.00" rx="1.40" fill="#3E221C"/>
<ellipse cx="0" cy="-6.9" rx="6.6" ry="8.6" fill="#9E6148"/>
<path d="M-7.6 -10 C-7.4 -16.5 -3.5 -18.8 0 -18.4 C3.5 -18.8 7.4 -16.5 7.6 -10 C6 -13.2 3.2 -14.3 0 -14 C-3.2 -14.3 -6 -13.2 -7.6 -10Z" fill="#4A2A22"/>
<ellipse cx="-3.3" cy="-7.2" rx="1.7" ry="1.15" fill="#E6DCD2"/><ellipse cx="3.3" cy="-7.2" rx="1.7" ry="1.15" fill="#E6DCD2"/>
<circle cx="-3.2" cy="-7.2" r="0.85" fill="#3A2A20"/><circle cx="3.2" cy="-7.2" r="0.85" fill="#3A2A20"/>
<path d="M-5 -9.3h3.4M1.6 -9.3h3.4" stroke="#3A201B" stroke-width="0.7"/>
</g></g>
<circle cx="1855" cy="847" r="8.9" fill="#fff"/><rect x="-3" y="-11.1" width="6" height="5" rx="1.1" transform="translate(1855,847) rotate(0)" fill="#fff"/><rect x="-3" y="-11.1" width="6" height="5" rx="1.1" transform="translate(1855,847) rotate(60)" fill="#fff"/><rect x="-3" y="-11.1" width="6" height="5" rx="1.1" transform="translate(1855,847) rotate(120)" fill="#fff"/><rect x="-3" y="-11.1" width="6" height="5" rx="1.1" transform="translate(1855,847) rotate(180)" fill="#fff"/><rect x="-3" y="-11.1" width="6" height="5" rx="1.1" transform="translate(1855,847) rotate(240)" fill="#fff"/><rect x="-3" y="-11.1" width="6" height="5" rx="1.1" transform="translate(1855,847) rotate(300)" fill="#fff"/><circle cx="1855" cy="847" r="3.3" fill="#0B85DC"/>
</svg>
</body></html>
